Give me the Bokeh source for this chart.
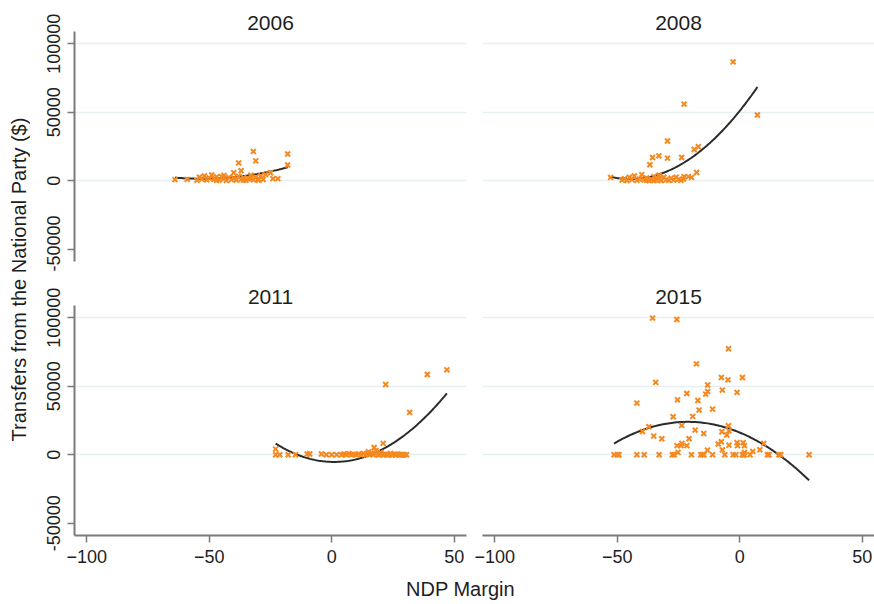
import numpy as np
from bokeh.plotting import figure
from bokeh.layouts import row, column
from bokeh.models import Range1d, FixedTicker, NumeralTickFormatter
from bokeh.core.properties import value
from bokeh.embed import file_html
from bokeh.resources import INLINE

FONT = "Liberation Sans"
TEXT = "#1e1e1e"
ORANGE = "#f5891f"
AXIS = "#7a7a7a"
GRID = "#e6eff1"

years = ["2006", "2008", "2011", "2015"]
x_ticks = [-100, -50, 0, 50]
y_ticks = [-50000, 0, 50000, 100000]
y_grid = [0, 50000, 100000]

# NDP margin (x) and transfers from the national party (y), per election
x_2006 = [-64, -59, -38, -32, -31, -40, -37, -25, -24, -22, -18, -18,
          -55, -54, -53, -52, -51, -50, -49, -48, -47, -46, -45, -44, -43,
          -42, -41, -40, -39, -38, -37, -36, -35, -34, -33, -32, -31, -30,
          -29, -28, -27, -30, -44, -47, -36, -33]
y_2006 = [800, 1000, 13000, 21400, 14500, 5800, 7300, 5800, 1500, 1500, 19500, 11500,
          300, 2500, 1200, 3500, 600, 2000, 4200, 1000, 2800, 500, 3000, 1500, 200,
          2400, 800, 1800, 400, 3200, 1000, 2200, 300, 1500, 4000, 700, 2500, 1200,
          3500, 900, 4500, 300, 3800, 300, 400, 1800]

x_2008 = [-52.7, -2.7, -22.7, 7.2, -29.5, -35.6, -33, -36.7, -29.5, -23.7, -18.6,
          -16.9, -17.6, -19.7, -22.7,
          -48, -47, -46, -45, -44, -43, -42, -41, -40, -39, -38, -37, -36, -35,
          -34, -33, -32, -31, -30, -29, -28, -27, -26, -25, -24, -23, -21, -38,
          -35, -33]
y_2008 = [2400, 86800, 56000, 48000, 29000, 17000, 18200, 11700, 16500, 17000, 22800,
          24800, 6000, 2400, 2900,
          500, 1500, 200, 2500, 800, 3500, 300, 1200, 4500, 600, 2000, 200, 1000, 3000,
          500, 1500, 200, 2500, 800, 300, 1800, 500, 2600, 1000, 300, 1200, 3000, 400,
          100, 4000]

x_2011 = [-22.9, -22.9, -21.2, -17.8, -14.8, -10, -9, -4.2, -2.2, 0, 2,
          4, 5, 6, 7, 8, 9, 10, 11, 12, 13, 14, 15, 16, 17, 18, 19, 20, 21, 22,
          23, 24, 25, 26, 27, 28, 29, 30.5,
          22.5, 24.5, 26.5, 27.5, 28.5, 29.5, 19.5, 21.5,
          17.3, 21, 22, 31.8, 39, 47, 15, 18, 20]
y_2011 = [4100, 0, 0, 0, 0, 500, 500, 500, 0, 0, 0,
          0, 500, 0, 800, 0, 300, 0, 600, 0, 1000, 0, 400, 1200, 0, 800, 0, 1500, 0, 300,
          0, 900, 0, 0, 400, 0, 0, 0,
          0, 0, 300, 0, 0, 0, 0, 200,
          5300, 8300, 51300, 30900, 58600, 62000, 2000, 3000, 1500]

x_2015 = [-35.6, -25.7, -4.6, -17.7, -34.3, -7.5, -4.8, 1.1, -13.1, -7.1, -1.1,
          -13.1, -13.9, -21.6, -25.4, -17.1, -42, -16.6, -11.1, -19.2, -27.2,
          -37.1, -39.7, -23.7, -18.2, -14.7, -35.1, -31.8, -20.7, -25.6, -23.6,
          -21.6, -25.2, -4.6, -7.3, -4.4, -5.3, -8.8, -7.5, -7.1, -4.4, -1.1,
          1.4, 1.9, -0.9, 1.9, 5.3, 8.2, 9.8, -24, -13.2,
          -51.3, -49.9, -49.3, -42, -39, -32.9, -27.5, -26.8, -19.7, -15.9,
          -15.2, -14.6, -11.1, -6.1, -2.7, -1.6, 1.1, 1.5, 1.8, 4.2, 11.3, 12,
          16, 16.7, 28.3]
y_2015 = [99800, 98800, 77400, 66400, 52800, 56400, 54700, 56400, 50900, 47200, 45500,
          46200, 44300, 44700, 40100, 39600, 37700, 32600, 33300, 28000, 27700,
          20400, 17000, 21400, 18000, 15500, 13600, 11700, 11700, 6600, 8300,
          6600, 1700, 21200, 16800, 17500, 14400, 7800, 9500, 3500, 7000, 8800,
          8800, 6600, 6600, 1700, 2400, 3600, 8300, 6600, 3400,
          0, 0, 0, 0, 0, 0, 0, 0, 0, 0,
          0, 0, 0, 0, 0, 0, 0, 0, 0, 0, 0, 0,
          0, 0, 0]

series = {
    "2006": (x_2006, y_2006),
    "2008": (x_2008, y_2008),
    "2011": (x_2011, y_2011),
    "2015": (x_2015, y_2015),
}

FRAME_W = 392
FRAME_H = 230


def panel(year, left_col, top_row):
    b_left = 44 if left_col else 8
    b_right = 8 if left_col else 0
    b_top = 31 if top_row else 34
    b_bottom = 10 if top_row else 36
    p = figure(
        width=b_left + FRAME_W + b_right,
        height=b_top + FRAME_H + b_bottom,
        x_range=Range1d(-105, 55),
        y_range=Range1d(-59000, 109000),
        x_axis_location=None if top_row else "below",
        y_axis_location="left" if left_col else None,
        output_backend="svg",
        toolbar_location=None,
        min_border_left=b_left, min_border_right=b_right,
        min_border_top=b_top, min_border_bottom=b_bottom,
    )
    p.outline_line_color = None
    p.background_fill_color = "white"
    p.border_fill_color = "white"

    p.title.text = year
    p.title.align = "center"
    p.title.text_font = FONT
    p.title.text_font_size = "21px"
    p.title.text_font_style = "normal"
    p.title.text_color = TEXT
    p.title.standoff = 3

    p.xgrid.visible = False
    p.ygrid.ticker = FixedTicker(ticks=y_grid)
    p.ygrid.grid_line_color = GRID
    p.ygrid.grid_line_width = 1.5

    for ax in p.xaxis:
        ax.ticker = FixedTicker(ticks=x_ticks)
    for ax in p.yaxis:
        ax.ticker = FixedTicker(ticks=y_ticks)
        ax.formatter = NumeralTickFormatter(format="0")
        ax.major_label_orientation = "vertical"
    for ax in list(p.xaxis) + list(p.yaxis):
        ax.axis_line_color = AXIS
        ax.axis_line_width = 2
        ax.major_tick_line_color = AXIS
        ax.major_tick_line_width = 1.5
        ax.major_tick_out = 7
        ax.major_tick_in = 0
        ax.minor_tick_line_color = None
        ax.major_label_text_font = FONT
        ax.major_label_text_font_size = "18px"
        ax.major_label_text_color = TEXT
        ax.major_label_standoff = 7

    xs, ys = series[year]
    xs = np.asarray(xs, dtype=float)
    ys = np.asarray(ys, dtype=float)

    # quadratic fit over the observed range of margins
    coef = np.polyfit(xs, ys, 2)
    fx = np.linspace(xs.min(), xs.max(), 120)
    p.line(fx, np.polyval(coef, fx), line_color="#2b2b2b", line_width=2)

    p.scatter(xs, ys, marker="x", size=7, line_color=ORANGE, line_width=2)
    return p


p1 = panel("2006", True, True)
p2 = panel("2008", False, True)
p3 = panel("2011", True, False)
p4 = panel("2015", False, False)

# shared axis titles
ylab = figure(width=30, height=604, x_range=Range1d(0, 30), y_range=Range1d(604, 0),
              output_backend="svg", toolbar_location=None, min_border=0,
              x_axis_location=None, y_axis_location=None)
ylab.outline_line_color = None
ylab.grid.visible = False
ylab.text(x=[18], y=[279], text=["Transfers from the National Party ($)"],
          angle=np.pi / 2, text_align="center", text_baseline="middle",
          text_font=value(FONT), text_font_size="20px", text_color=TEXT)

total_w = p1.width + p2.width
xlab = figure(width=total_w, height=604 - (p1.height + p3.height),
              x_range=Range1d(0, total_w), y_range=Range1d(604 - (p1.height + p3.height), 0),
              output_backend="svg", toolbar_location=None, min_border=0,
              x_axis_location=None, y_axis_location=None)
xlab.outline_line_color = None
xlab.grid.visible = False
xlab.text(x=[430], y=[17], text=["NDP Margin"], text_align="center",
          text_baseline="middle", text_font=value(FONT), text_font_size="20px",
          text_color=TEXT)

layout = row(ylab, column(row(p1, p2), row(p3, p4), xlab))

open("out.html", "w").write(file_html(layout, INLINE))
